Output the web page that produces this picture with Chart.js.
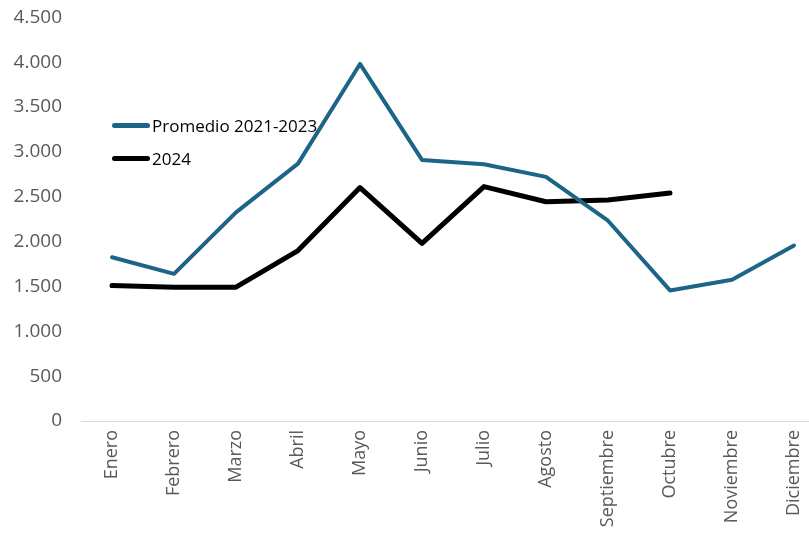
<!DOCTYPE html>
<html>
<head>
<meta charset="utf-8">
<script src="https://cdn.jsdelivr.net/npm/chart.js@4/dist/chart.umd.min.js"></script>
<style>
  html, body { margin: 0; padding: 0; background: #fff; overflow: hidden; }
  #wrap { position: relative; width: 809px; height: 534px; overflow: hidden; }
  #c { position: absolute; left: 0; top: -13px; }
  #legend { position: absolute; left: 112px; top: 109px; font-family: "Open Sans", sans-serif; font-size: 17px; color: #000; }
  .item { display: flex; align-items: center; height: 33px; }
  .sw { display: inline-block; width: 38px; height: 5px; border-radius: 3px; margin-right: 2px; }
</style>
</head>
<body>
<div id="wrap">
  <canvas id="c" width="842" height="547" style="width:842px;height:547px"></canvas>
  <div id="legend"></div>
</div>
<script>
const categories = ['Enero','Febrero','Marzo','Abril','Mayo','Junio','Julio','Agosto','Septiembre','Octubre','Noviembre','Diciembre'];
const promedio = [1826, 1641, 2326, 2870, 3981, 2911, 2863, 2722, 2233, 1456, 1574, 1956];
const y2024 = [1511, 1492, 1492, 1900, 2603, 1981, 2614, 2444, 2463, 2541, null, null];
const yTickLabels = ['0','500','1.000','1.500','2.000','2.500','3.000','3.500','4.000','4.500'];
const seriesNames = ['Promedio 2021-2023', '2024'];
const seriesColors = ['#1c6587', '#000000'];

const ctx = document.getElementById('c');
const chart = new Chart(ctx, {
  type: 'line',
  data: {
    labels: categories,
    datasets: [
      { label: seriesNames[0], data: promedio, borderColor: seriesColors[0], backgroundColor: seriesColors[0], borderWidth: 4, pointRadius: 0, tension: 0, borderJoinStyle: 'round', borderCapStyle: 'round' },
      { label: seriesNames[1], data: y2024, borderColor: seriesColors[1], backgroundColor: seriesColors[1], borderWidth: 5, pointRadius: 0, tension: 0, borderJoinStyle: 'round', borderCapStyle: 'round' }
    ]
  },
  options: {
    responsive: false,
    maintainAspectRatio: false,
    animation: false,
    devicePixelRatio: 1,
    layout: { padding: { top: 3, right: 17, bottom: 0, left: 0 } },
    plugins: { legend: { display: false }, tooltip: { enabled: false } },
    scales: {
      x: {
        offset: true,
        grid: { display: false, drawTicks: false },
        border: { display: true, color: '#d9d9d9', width: 1 },
        ticks: { autoSkip: false, minRotation: 90, maxRotation: 90, padding: 9, color: '#595959', font: { family: 'Open Sans', size: 18 } },
        afterFit: (s) => { s.height = 113; }
      },
      y: {
        min: 0, max: 4500,
        grid: { display: false, drawTicks: false },
        border: { display: false },
        ticks: { stepSize: 500, padding: 19, color: '#595959', font: { family: 'Open Sans', size: 19 },
          callback: (v) => yTickLabels[Math.round(v / 500)] },
        afterFit: (s) => { s.width = 81; }
      }
    }
  }
});

const lg = document.getElementById('legend');
seriesNames.forEach((n, i) => {
  const d = document.createElement('div');
  d.className = 'item';
  d.innerHTML = '<span class="sw" style="background:' + seriesColors[i] + '"></span><span>' + n + '</span>';
  lg.appendChild(d);
});
</script>
</body>
</html>
